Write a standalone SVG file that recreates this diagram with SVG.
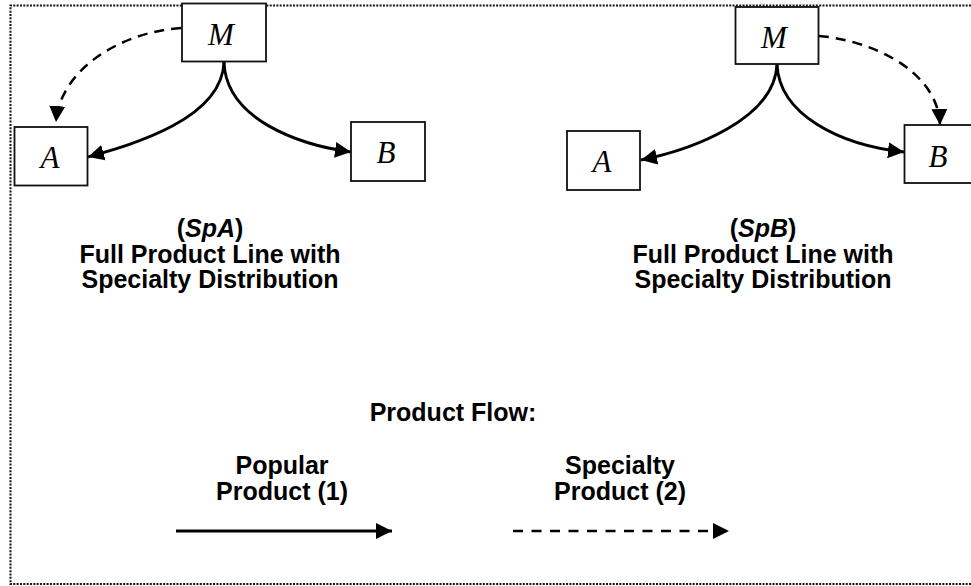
<svg xmlns="http://www.w3.org/2000/svg" width="971" height="586" viewBox="0 0 971 586">
<style>
.box{fill:#fff;stroke:#111;stroke-width:1.8}
.var{font-family:"Liberation Serif","Times New Roman",serif;font-style:italic;font-size:31px;fill:#000}
.lbl{font-family:"Liberation Sans",Arial,sans-serif;font-weight:bold;font-size:25px;fill:#000;text-anchor:middle}
.solid{fill:none;stroke:#000;stroke-width:2.9}
.dash{fill:none;stroke:#000;stroke-width:2.5;stroke-dasharray:10 7}
.border{fill:none;stroke:#111;stroke-width:2;stroke-dasharray:2 1.33}
</style>
<defs>
<marker id="ah" markerUnits="userSpaceOnUse" markerWidth="18" markerHeight="18" viewBox="0 0 18 18" refX="16" refY="9" orient="auto">
<path d="M0,1 L16,9 L0,17 Z" fill="#000"/>
</marker>
</defs>
<rect width="971" height="586" fill="#fff"/>
<path class="border" d="M971,5.5 H10.5 V584 H971"/>
<g id="connectors">
<path class="dash" d="M181,28 C120,32 60,70 56,122" marker-end="url(#ah)"/>
<path class="solid" d="M224,62 C222,120 130,145 88,157" marker-end="url(#ah)"/>
<path class="solid" d="M224,62 C226,120 300,145 351,152" marker-end="url(#ah)"/>
<path class="dash" d="M819,36 C870,40 938,70 940,125" marker-end="url(#ah)"/>
<path class="solid" d="M777,64 C775,120 690,150 641,160" marker-end="url(#ah)"/>
<path class="solid" d="M777,64 C779,115 840,145 904,152" marker-end="url(#ah)"/>
<path class="solid" d="M176,531 H392" marker-end="url(#ah)"/>
<path class="dash" d="M513,531 H729" style="stroke-dasharray:10 8.5" marker-end="url(#ah)"/>
</g>
<g id="left-M"><rect class="box" x="182" y="3.5" width="84" height="58"/><text class="var" x="221" y="45" text-anchor="middle">M</text></g>
<g id="left-A"><rect class="box" x="14.5" y="127" width="73" height="58.5"/><text class="var" x="50" y="168" text-anchor="middle">A</text></g>
<g id="left-B"><rect class="box" x="351" y="122" width="74" height="59"/><text class="var" x="386" y="163" text-anchor="middle">B</text></g>
<g id="right-M"><rect class="box" x="735.5" y="7" width="83" height="57"/><text class="var" x="774" y="48" text-anchor="middle">M</text></g>
<g id="right-A"><rect class="box" x="567" y="131" width="73" height="59"/><text class="var" x="602" y="172" text-anchor="middle">A</text></g>
<g id="right-B"><rect class="box" x="904.5" y="125" width="75" height="58"/><text class="var" x="938" y="167" text-anchor="middle">B</text></g>
<g id="caption-left">
<text class="lbl" x="210" y="237">(<tspan font-style="italic">SpA</tspan>)</text>
<text class="lbl" x="210" y="262.5">Full Product Line with</text>
<text class="lbl" x="210" y="288">Specialty Distribution</text>
</g>
<g id="caption-right">
<text class="lbl" x="763" y="237">(<tspan font-style="italic">SpB</tspan>)</text>
<text class="lbl" x="763" y="262.5">Full Product Line with</text>
<text class="lbl" x="763" y="288">Specialty Distribution</text>
</g>
<g id="legend">
<text class="lbl" x="453" y="421">Product Flow:</text>
<text class="lbl" x="282" y="474">Popular</text>
<text class="lbl" x="282" y="500">Product (1)</text>
<text class="lbl" x="620" y="474">Specialty</text>
<text class="lbl" x="620" y="500">Product (2)</text>
</g>
</svg>
